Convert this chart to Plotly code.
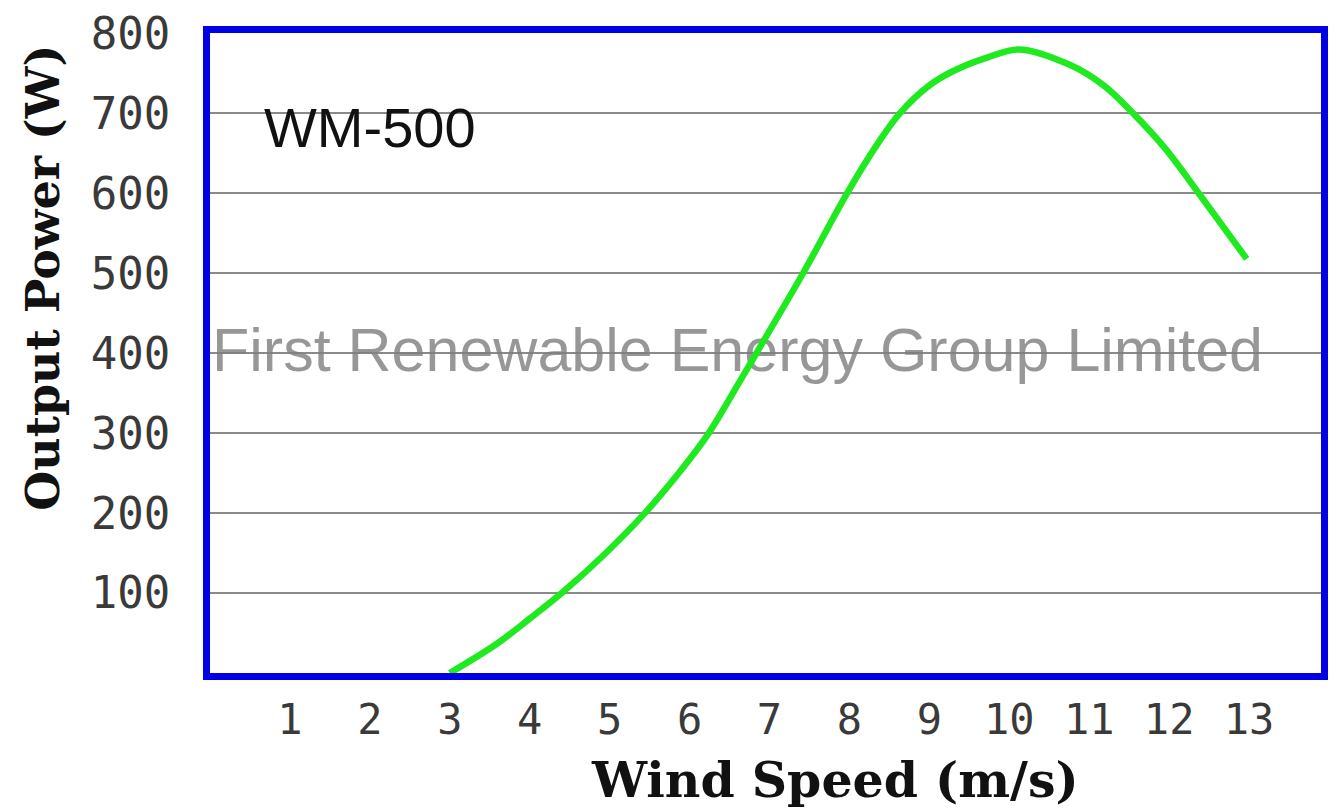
import plotly.graph_objects as go

# Power curve
wind_speed = [3.0, 3.58, 4.0, 4.4, 4.92, 5.44, 5.88, 6.24, 6.63, 7.0, 7.42, 7.97,
              8.36, 8.63, 9.0, 9.3, 9.73, 10.12, 10.75, 11.18, 11.55, 11.96, 12.37, 12.97]
output_power = [0, 36, 68, 100, 147, 200, 252, 300, 365, 428, 500, 600,
                663, 700, 735, 753, 770, 780, 761, 735, 700, 655, 600, 518]

x_ticks = list(range(1, 14))
y_ticks = [100, 200, 300, 400, 500, 600, 700, 800]

model_label = "WM-500"
watermark = "First Renewable Energy Group Limited"
x_title = "Wind Speed (m/s)"
y_title = "Output Power (W)"

fig = go.Figure()

# watermark drawn first so the curve lies above it
fig.add_trace(go.Scatter(
    x=[6.6], y=[397], mode="text", text=[watermark],
    textposition="middle center",
    textfont=dict(family="Liberation Sans, Arial, sans-serif", size=61,
                  color="rgba(125,125,125,0.8)"),
    hoverinfo="skip", showlegend=False, cliponaxis=False,
))

fig.add_trace(go.Scatter(
    x=wind_speed, y=output_power, mode="lines",
    line=dict(color="#1fea1f", width=6.5, shape="spline", smoothing=1.0),
    showlegend=False, cliponaxis=False,
))

mono = "DejaVu Sans Mono, monospace"
fig.update_xaxes(
    range=[0, 13.9], tickvals=x_ticks, ticktext=[str(v) for v in x_ticks],
    showgrid=False, zeroline=False,
    showline=True, linecolor="#0000e6", linewidth=7, mirror=True,
    ticks="", ticklabelstandoff=4,
    tickfont=dict(family=mono, size=42, color="#3a3a3a"),
)
fig.update_yaxes(
    range=[0, 800.5], tickvals=y_ticks, ticktext=[str(v) for v in y_ticks],
    showgrid=True, gridcolor="#8a8a8a", gridwidth=1.5, zeroline=False,
    showline=True, linecolor="#0000e6", linewidth=7, mirror=True,
    ticks="", ticklabelstandoff=24,
    tickfont=dict(family=mono, size=44, color="#3a3a3a"),
)

serif = "DejaVu Serif, serif"
fig.add_annotation(text="<b>" + x_title + "</b>", xref="paper", yref="paper",
                   x=0.5625, y=-0.167, xanchor="center", yanchor="middle",
                   showarrow=False, font=dict(family=serif, size=49, color="#111111"))
fig.add_annotation(text="<b>" + y_title + "</b>", xref="paper", yref="paper",
                   x=-0.150, y=0.618, xanchor="center", yanchor="middle",
                   textangle=-90, showarrow=False,
                   font=dict(family=serif, size=46, color="#111111"))
fig.add_annotation(text=model_label, xref="paper", yref="paper",
                   x=0.047, y=0.852, xanchor="left", yanchor="middle",
                   showarrow=False,
                   font=dict(family="Liberation Sans, Arial, sans-serif", size=56, color="#111111"))

fig.update_layout(
    width=1336, height=810,
    margin=dict(l=210, r=8, t=32, b=137),
    paper_bgcolor="white", plot_bgcolor="white",
    showlegend=False,
)

# remove the browser's default page margin so the figure fills the window exactly
fig.write_html("out.html", config={"displayModeBar": False},
               post_script="document.body.style.margin='0';document.body.style.overflow='hidden';")
